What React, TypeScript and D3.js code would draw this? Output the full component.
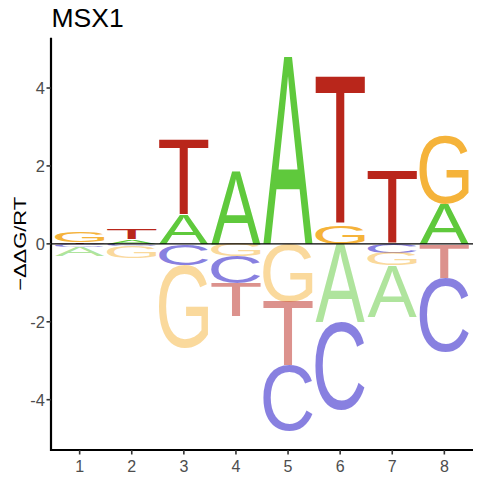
import { useMemo } from 'react'
import * as d3 from 'd3'

// energy logo values (-ddG/RT) per position
const positions = [1, 2, 3, 4, 5, 6, 7, 8]
const energyA = [-0.23, 0.11, 0.74, 1.87, 4.81, -2.0, -1.31, 1.03]
const energyC = [-0.07, -0.05, -0.54, -0.7, -1.68, -2.27, -0.24, -1.9]
const energyG = [0.26, -0.31, -2.14, -0.32, -1.48, 0.48, -0.32, 1.75]
const energyT = [0.04, 0.25, 1.94, -0.85, -1.65, 3.8, 1.87, -0.88]
const yTicks = [-4, -2, 0, 2, 4]

const bases = ['A', 'C', 'G', 'T']
const baseColors: Record<string, string> = {
  A: '#5FC93C',
  C: '#1101C1',
  G: '#F5B33A',
  T: '#B9261B'
}

const W = 480
const H = 480
const margin = { top: 37.7, right: 7, bottom: 30, left: 51 }
const letterWidth = 0.95
const glyphFont = '"Liberation Sans", Arial, sans-serif'

interface GlyphBox {
  left: number
  right: number
  ascent: number
  descent: number
}

const glyphCache: Record<string, GlyphBox> = {}

function measureGlyph(ch: string): GlyphBox {
  if (glyphCache[ch]) return glyphCache[ch]
  const ctx = document.createElement('canvas').getContext('2d')
  let box: GlyphBox = { left: -1, right: 66, ascent: 72, descent: 1 }
  if (ctx) {
    ctx.font = `100px ${glyphFont}`
    const m = ctx.measureText(ch)
    if (m.actualBoundingBoxRight + m.actualBoundingBoxLeft > 0) {
      box = {
        left: m.actualBoundingBoxLeft,
        right: m.actualBoundingBoxRight,
        ascent: m.actualBoundingBoxAscent,
        descent: m.actualBoundingBoxDescent
      }
    }
  }
  glyphCache[ch] = box
  return box
}

interface Letter {
  base: string
  pos: number
  y0: number
  y1: number
  negative: boolean
}

export default function App() {
  const x = d3.scaleLinear()
    .domain([0.45, 8.55])
    .range([margin.left, W - margin.right])

  const all = [...energyA, ...energyC, ...energyG, ...energyT]
  const maxAbs = d3.max(all, d => Math.abs(d))!
  const lim = maxAbs * 1.1
  const y = d3.scaleLinear()
    .domain([-lim, lim])
    .range([H - margin.bottom, margin.top])

  const letters = useMemo(() => {
    const out: Letter[] = []
    const table = [energyA, energyC, energyG, energyT]
    positions.forEach((p, i) => {
      const vals = bases.map((b, k) => ({ base: b, v: table[k][i] }))
      // smallest letters sit next to the zero line
      const pos = vals.filter(d => d.v > 0).sort((a, b) => a.v - b.v)
      const neg = vals.filter(d => d.v < 0).sort((a, b) => b.v - a.v)
      let acc = 0
      pos.forEach(d => {
        out.push({ base: d.base, pos: p, y0: acc, y1: acc + d.v, negative: false })
        acc += d.v
      })
      acc = 0
      neg.forEach(d => {
        out.push({ base: d.base, pos: p, y0: acc + d.v, y1: acc, negative: true })
        acc += d.v
      })
    })
    return out
  }, [])

  const tickColor = '#4D4D4D'

  return (
    <svg
      width={W}
      height={H}
      style={{ position: 'absolute', left: 0, top: 0, display: 'block' }}
      fontFamily='"Liberation Sans", Arial, sans-serif'
    >
      <rect width={W} height={H} fill="white" />

      {letters.map((l, i) => {
        const g = measureGlyph(l.base)
        const x0 = x(l.pos - letterWidth / 2)
        const x1 = x(l.pos + letterWidth / 2)
        const top = y(l.y1)
        const bottom = y(l.y0)
        const gw = g.left + g.right
        const gh = g.ascent + g.descent
        const sx = (x1 - x0) / gw
        const sy = (bottom - top) / gh
        return (
          <text
            key={i}
            x={0}
            y={0}
            fontSize={100}
            fontFamily={glyphFont}
            fill={baseColors[l.base]}
            fillOpacity={l.negative ? 0.5 : 1}
            transform={`translate(${x0},${top}) scale(${sx},${sy}) translate(${g.left},${g.ascent})`}
          >
            {l.base}
          </text>
        )
      })}

      {/* zero line */}
      <line
        x1={margin.left}
        x2={W - margin.right}
        y1={y(0)}
        y2={y(0)}
        stroke="black"
        strokeWidth={1.2}
      />

      {/* axes */}
      <path
        d={`M${margin.left},${margin.top}V${H - margin.bottom}H${W - margin.right}`}
        fill="none"
        stroke="black"
        strokeWidth={2.2}
      />

      {yTicks.map(t => (
        <g key={t}>
          <line x1={margin.left - 4.5} x2={margin.left} y1={y(t)} y2={y(t)} stroke="#333" strokeWidth={1.6} />
          <text
            x={margin.left - 6}
            y={y(t)}
            dy="0.36em"
            textAnchor="end"
            fontSize={16.5}
            fill={tickColor}
          >
            {t}
          </text>
        </g>
      ))}

      {positions.map(p => (
        <g key={p}>
          <line x1={x(p)} x2={x(p)} y1={H - margin.bottom} y2={H - margin.bottom + 4.5} stroke="#333" strokeWidth={1.6} />
          <text x={x(p)} y={471.5} textAnchor="middle" fontSize={16} fill={tickColor}>
            {p}
          </text>
        </g>
      ))}

      <text
        transform={`translate(26,${y(0)}) rotate(-90)`}
        textAnchor="middle"
        fontSize={17}
        fill="black"
        textLength={94}
        lengthAdjust="spacingAndGlyphs"
      >
        {'\u2212\u0394\u0394G/RT'}
      </text>

      <text x={51.5} y={26.7} fontSize={26.5} fill="black">
        MSX1
      </text>
    </svg>
  )
}
